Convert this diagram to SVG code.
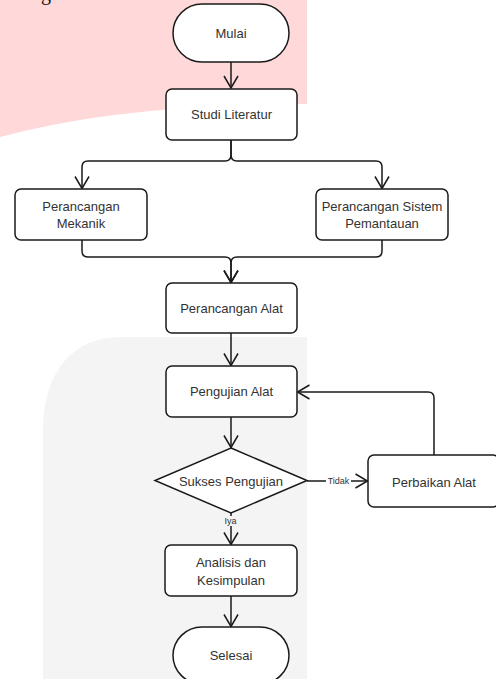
<svg xmlns="http://www.w3.org/2000/svg" width="496" height="679" viewBox="0 0 496 679">
<defs>
<style>
.node{fill:#ffffff;stroke:#1a1a1a;stroke-width:1.5}
.edge{fill:none;stroke:#1a1a1a;stroke-width:1.5}
.lbl{font-family:"Liberation Sans",Arial,sans-serif;font-size:13px;fill:#333333;text-anchor:middle}
.small{font-family:"Liberation Sans",Arial,sans-serif;font-size:9px;fill:#333333;text-anchor:middle}
</style>
<marker id="arr" markerUnits="userSpaceOnUse" markerWidth="18" markerHeight="18" viewBox="-14 -9 18 18" refX="0" refY="0" orient="auto">
<path d="M-12,-7 L0,0 L-12,7" fill="none" stroke="#1a1a1a" stroke-width="1.5"/>
</marker>
</defs>
<rect width="496" height="679" fill="#ffffff"/>
<path d="M0,0 H307 V104 Q120,104 0,137 Z" fill="#ffd9d9"/>
<path d="M307,337 H120 C75,337 43,370 43,430 V679 H307 Z" fill="#f4f4f4"/>
<text x="41" y="-0.5" font-family="'Liberation Serif',serif" font-size="20" fill="#111">g</text>

<g id="connectors">
<path class="edge" d="M231,62 V88" marker-end="url(#arr)"/>
<path class="edge" d="M231,140 V155 Q231,161 225,161 H88 Q82,161 82,167 V188.5" marker-end="url(#arr)"/>
<path class="edge" d="M231,140 V155 Q231,161 237,161 H376 Q382,161 382,167 V188.5" marker-end="url(#arr)"/>
<path class="edge" d="M82,240 V251 Q82,257 88,257 H225 Q231,257 231,263 V282.5" marker-end="url(#arr)"/>
<path class="edge" d="M382,240 V251 Q382,257 376,257 H237 Q231,257 231,263 V282.5" marker-end="url(#arr)"/>
<path class="edge" d="M231,333 V365.5" marker-end="url(#arr)"/>
<path class="edge" d="M231,417 V447.5" marker-end="url(#arr)"/>
<path class="edge" d="M307,481 H367.5" marker-end="url(#arr)"/>
<path class="edge" d="M434,455 V398 Q434,392 428,392 H297.5" marker-end="url(#arr)"/>
<path class="edge" d="M231,513 V544.5" marker-end="url(#arr)"/>
<path class="edge" d="M231,596 V626.5" marker-end="url(#arr)"/>
<rect x="326" y="476" width="25" height="10" fill="#ffffff"/>
<text class="small" x="338.5" y="484">Tidak</text>
<rect x="222" y="516" width="17" height="10" fill="#f4f4f4"/>
<text class="small" x="230.5" y="524">Iya</text>
</g>

<g id="mulai">
<rect class="node" x="173" y="4" width="116" height="58" rx="29" ry="29"/>
<text class="lbl" x="231" y="37.5">Mulai</text>
</g>
<g id="studi-literatur">
<rect class="node" x="166" y="89" width="131" height="51" rx="6"/>
<text class="lbl" x="231.5" y="119">Studi Literatur</text>
</g>
<g id="perancangan-mekanik">
<rect class="node" x="15" y="189" width="132" height="51" rx="6"/>
<text class="lbl" x="81" y="210.5">Perancangan</text>
<text class="lbl" x="81" y="227.5">Mekanik</text>
</g>
<g id="perancangan-sistem">
<rect class="node" x="316" y="189" width="132" height="51" rx="6"/>
<text class="lbl" x="382" y="210.5">Perancangan Sistem</text>
<text class="lbl" x="382" y="227.5">Pemantauan</text>
</g>
<g id="perancangan-alat">
<rect class="node" x="166" y="283" width="131" height="50" rx="6"/>
<text class="lbl" x="231.5" y="312.5">Perancangan Alat</text>
</g>
<g id="pengujian-alat">
<rect class="node" x="166" y="366" width="131" height="51" rx="6"/>
<text class="lbl" x="231.5" y="396">Pengujian Alat</text>
</g>
<g id="sukses-pengujian">
<polygon class="node" points="231,448 307,480.5 231,513 155,480.5"/>
<text class="lbl" x="231" y="486">Sukses Pengujian</text>
</g>
<g id="perbaikan-alat">
<rect class="node" x="368" y="455" width="131" height="52" rx="6"/>
<text class="lbl" x="434" y="486.5">Perbaikan Alat</text>
</g>
<g id="analisis-kesimpulan">
<rect class="node" x="165" y="545" width="132" height="51" rx="6"/>
<text class="lbl" x="231" y="566.5">Analisis dan</text>
<text class="lbl" x="231" y="584.5">Kesimpulan</text>
</g>
<g id="selesai">
<rect class="node" x="173" y="627" width="116" height="57" rx="29" ry="28.5"/>
<text class="lbl" x="231" y="659.5">Selesai</text>
</g>
</svg>
